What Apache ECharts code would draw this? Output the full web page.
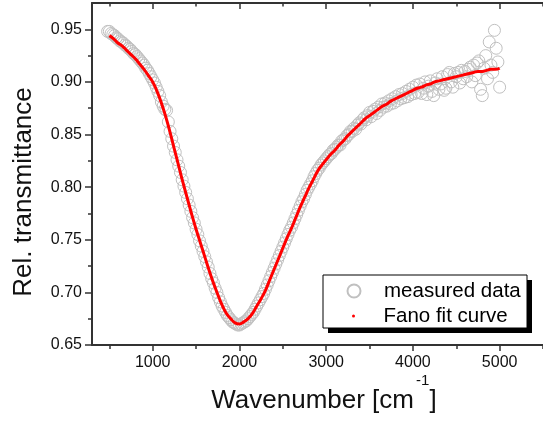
<!DOCTYPE html>
<html>
<head>
<meta charset="utf-8">
<script src="https://cdn.jsdelivr.net/npm/echarts@6/dist/echarts.min.js"></script>
<style>
  html, body { margin: 0; padding: 0; background: #fff; }
  #chart { width: 543px; height: 421px; }
</style>
</head>
<body>
<div id="chart"></div>
<script>
// ---- Data ----
const seriesNames = ['measured data', 'Fano fit curve'];

// measured data: wavenumber grid 480..5000 cm-1, step 20
const measuredStart = 480;
const measuredStep = 20;
const measuredValues = [
  0.948, 0.948, 0.946, 0.945, 0.944, 0.942, 0.941, 0.939, 0.938, 0.937,
  0.935, 0.934, 0.932, 0.931, 0.929, 0.927, 0.926, 0.924, 0.922, 0.920,
  0.918, 0.916, 0.913, 0.911, 0.908, 0.905, 0.902, 0.899, 0.895, 0.891,
  0.887, 0.881, 0.877, 0.874, 0.873, 0.862, 0.853, 0.846, 0.839, 0.833,
  0.826, 0.820, 0.814, 0.807, 0.801, 0.795, 0.789, 0.783, 0.777, 0.771,
  0.766, 0.760, 0.755, 0.749, 0.744, 0.739, 0.734, 0.729, 0.724, 0.718,
  0.713, 0.709, 0.704, 0.700, 0.695, 0.691, 0.687, 0.684, 0.681, 0.678,
  0.676, 0.674, 0.672, 0.671, 0.670, 0.669, 0.669, 0.670, 0.671, 0.672,
  0.673, 0.675, 0.677, 0.679, 0.681, 0.684, 0.687, 0.690, 0.693, 0.696,
  0.699, 0.703, 0.707, 0.711, 0.715, 0.719, 0.723, 0.727, 0.731, 0.735,
  0.739, 0.743, 0.747, 0.751, 0.755, 0.759, 0.762, 0.766, 0.770, 0.774,
  0.778, 0.782, 0.786, 0.789, 0.793, 0.797, 0.800, 0.803, 0.806, 0.810,
  0.813, 0.816, 0.818, 0.821, 0.823, 0.825, 0.827, 0.829, 0.831, 0.832,
  0.835, 0.836, 0.838, 0.840, 0.840, 0.844, 0.845, 0.846, 0.849, 0.850,
  0.853, 0.853, 0.856, 0.855, 0.859, 0.861, 0.860, 0.864, 0.866, 0.864,
  0.868, 0.871, 0.867, 0.872, 0.874, 0.870, 0.876, 0.873, 0.879, 0.876,
  0.880, 0.877, 0.882, 0.879, 0.884, 0.880, 0.886, 0.882, 0.888, 0.884,
  0.889, 0.885, 0.891, 0.886, 0.893, 0.888, 0.895, 0.889, 0.897, 0.890,
  0.898, 0.889, 0.894, 0.900, 0.888, 0.896, 0.901, 0.891, 0.887, 0.899,
  0.903, 0.893, 0.898, 0.905, 0.892, 0.894, 0.907, 0.909, 0.900, 0.895,
  0.908, 0.905, 0.909, 0.899, 0.911, 0.903, 0.910, 0.905, 0.912, 0.914,
  0.900, 0.916, 0.906, 0.918, 0.920, 0.893, 0.887, 0.913, 0.925, 0.903,
  0.938, 0.916, 0.909, 0.949, 0.932, 0.919, 0.895
];

// Fano fit curve: wavenumber grid 500..5000 cm-1, step 50
const fitStart = 500;
const fitStep = 50;
const fitValues = [
  0.944, 0.941, 0.937, 0.934, 0.930, 0.926, 0.922, 0.917, 0.912, 0.906,
  0.900, 0.891, 0.880, 0.867, 0.852, 0.836, 0.820, 0.804, 0.789, 0.774,
  0.760, 0.747, 0.734, 0.721, 0.709, 0.698, 0.688, 0.680, 0.675, 0.671,
  0.670, 0.672, 0.675, 0.680, 0.687, 0.694, 0.702, 0.712, 0.722, 0.732,
  0.742, 0.752, 0.761, 0.771, 0.781, 0.790, 0.799, 0.807, 0.815, 0.821,
  0.826, 0.831, 0.835, 0.840, 0.844, 0.849, 0.853, 0.857, 0.861, 0.865,
  0.868, 0.871, 0.874, 0.877, 0.879, 0.882, 0.884, 0.886, 0.888, 0.890,
  0.892, 0.894, 0.895, 0.897, 0.898, 0.900, 0.901, 0.902, 0.903, 0.904,
  0.905, 0.906, 0.907, 0.908, 0.909, 0.910, 0.910, 0.911, 0.912, 0.912,
  0.913
];

// axis ticks / labels
const xMajorTicks = [1000, 2000, 3000, 4000, 5000];
const xMinorTicks = [500, 1500, 2500, 3500, 4500, 5500];
const yMajorTicks = [0.65, 0.70, 0.75, 0.80, 0.85, 0.90, 0.95];
const yMinorTicks = [0.675, 0.725, 0.775, 0.825, 0.875, 0.925];
const xTitle = ['Wavenumber [cm', '-1', ']'];
const yTitle = 'Rel. transmittance';

// ---- Build ----
const measuredData = measuredValues.map((v, i) => [measuredStart + i * measuredStep, v]);
const fitData = fitValues.map((v, i) => [fitStart + i * fitStep, v]);

const FONT = '"Liberation Sans", Arial, sans-serif';
const AX = '#333';
const X_MIN = 300, X_MAX = 5500, Y_MIN = 0.65, Y_MAX = 0.975;

function xAxisDef(position, ticks, len, inside, showLine, showLabel) {
  return {
    type: 'value', position: position, min: X_MIN, max: X_MAX,
    axisLine: { show: showLine, onZero: false, lineStyle: { color: AX, width: 2 } },
    axisTick: { show: true, inside: inside, length: len, customValues: ticks,
                lineStyle: { color: AX, width: 1.5 } },
    axisLabel: showLabel ? { show: true, customValues: ticks, fontSize: 16, color: '#111',
                fontFamily: FONT, margin: 10, formatter: v => String(Math.round(v)) } : { show: false },
    splitLine: { show: false }
  };
}
function yAxisDef(ticks, len, showLine, showLabel) {
  return {
    type: 'value', position: 'left', min: Y_MIN, max: Y_MAX,
    axisLine: { show: showLine, onZero: false, lineStyle: { color: AX, width: 2 } },
    axisTick: { show: true, inside: false, length: len, customValues: ticks,
                lineStyle: { color: AX, width: 1.5 } },
    axisLabel: showLabel ? { show: true, customValues: ticks, fontSize: 16, color: '#111',
                fontFamily: FONT, margin: 10, formatter: v => Number(v).toFixed(2) } : { show: false },
    splitLine: { show: false }
  };
}

const chart = echarts.init(document.getElementById('chart'), null, { renderer: 'canvas' });
chart.setOption({
  animation: false,
  backgroundColor: '#fff',
  grid: { left: 92, top: 3, width: 460, height: 342, containLabel: false },
  xAxis: [
    xAxisDef('bottom', xMajorTicks, 6, false, true, true),
    xAxisDef('bottom', xMinorTicks, 4, false, false, false),
    xAxisDef('top', xMajorTicks, 6, true, true, false),
    xAxisDef('top', xMinorTicks, 3.5, true, false, false)
  ],
  yAxis: [
    yAxisDef(yMajorTicks, 7, true, true),
    yAxisDef(yMinorTicks, 4, false, false)
  ],
  legend: [
    {
      data: [{ name: seriesNames[0], icon: 'circle' }],
      left: 346.5, top: 280.5, padding: 0, itemWidth: 50, itemHeight: 13,
      selectedMode: false,
      textStyle: { fontSize: 20.5, color: '#000', fontFamily: FONT }
    },
    {
      data: [{ name: seriesNames[1], icon: 'circle' }],
      left: 352, top: 305.5, padding: 0, itemWidth: 50, itemHeight: 3,
      selectedMode: false,
      textStyle: { fontSize: 20.5, color: '#000', fontFamily: FONT }
    }
  ],
  graphic: [
    { type: 'rect', z: 3, shape: { x: 328, y: 280, width: 204, height: 53 },
      style: { fill: '#000' } },
    { type: 'rect', z: 3, shape: { x: 323, y: 275, width: 204, height: 53 },
      style: { fill: '#fff', stroke: '#000', lineWidth: 1 } },
    { type: 'text', z: 5, x: 24, y: 192, rotation: Math.PI / 2,
      style: { text: yTitle, fontSize: 26, fontFamily: FONT, fill: '#111',
               align: 'center', verticalAlign: 'middle' } },
    { type: 'text', z: 5, x: 414, y: 401,
      style: { text: xTitle[0], fontSize: 26, fontFamily: FONT, fill: '#111',
               align: 'right', verticalAlign: 'middle' } },
    { type: 'text', z: 5, x: 416, y: 381,
      style: { text: xTitle[1], fontSize: 15, fontFamily: FONT, fill: '#111',
               align: 'left', verticalAlign: 'middle' } },
    { type: 'text', z: 5, x: 429.5, y: 401,
      style: { text: xTitle[2], fontSize: 26, fontFamily: FONT, fill: '#111',
               align: 'left', verticalAlign: 'middle' } }
  ],
  series: [
    {
      name: seriesNames[0], type: 'scatter', xAxisIndex: 0, yAxisIndex: 0,
      data: measuredData, symbol: 'circle', symbolSize: 12,
      itemStyle: { color: 'rgba(255,255,255,0)', borderColor: '#c0c0c0', borderWidth: 1, opacity: 1 },
      emphasis: { disabled: true }, z: 2
    },
    {
      name: seriesNames[1], type: 'line', xAxisIndex: 0, yAxisIndex: 0,
      data: fitData, smooth: true, showSymbol: false, symbol: 'circle',
      lineStyle: { color: '#ff0000', width: 3 },
      itemStyle: { color: '#ff0000' },
      emphasis: { disabled: true }, z: 3
    }
  ]
});
</script>
</body>
</html>
